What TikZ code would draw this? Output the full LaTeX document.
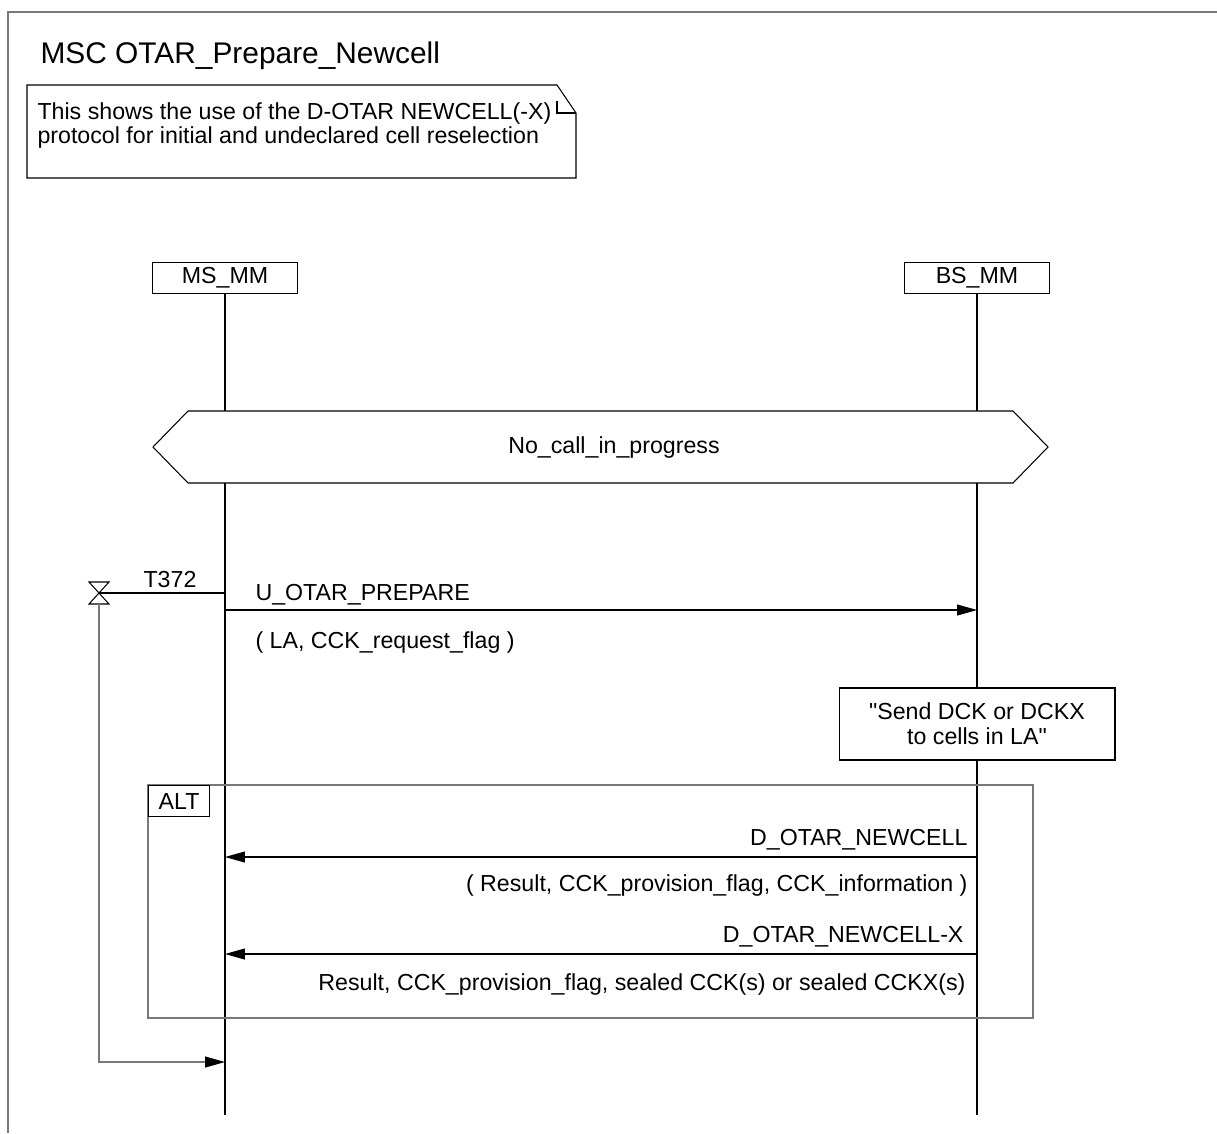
\documentclass[tikz,border=0pt]{standalone}
\usepackage{fontspec}
\setmainfont{Liberation Sans}
\usetikzlibrary{arrows.meta}
\begin{document}
\begin{tikzpicture}[x=0.02cm, y=-0.02cm, >={Triangle[length=0.4cm, width=0.22cm]},
		line width=0.6pt, font=\fontsize{13.2}{16}\selectfont,
		inst/.style={draw, minimum width=2.9cm, minimum height=0.62cm, inner sep=0pt},
		action/.style={draw, fill=white, align=center, minimum width=5.52cm, minimum height=1.44cm,
			inner sep=0pt, font=\fontsize{13.2}{14.2}\selectfont},
		lbl/.style={inner sep=0pt},
		framed/.style={draw=framegray, line width=0.8pt},
		timerarrow/.style={framegray, -{Triangle[length=0.4cm, width=0.22cm, color=black]}}]
		\definecolor{framegray}{RGB}{120,120,120}
		\useasboundingbox (0,0) rectangle (1217,1133);
		
		% 外框与标题
		\draw[framed] (8,1133) -- (8,12) -- (1217,12);
		\node[lbl, anchor=base west, font=\fontsize{17}{20}\selectfont] (title) at (40,63) {MSC OTAR\_Prepare\_Newcell};
		
		% 注释
		\draw (557,85) -- (27,85) -- (27,178) -- (576,178) -- (576,113) -- (557,85);
		\draw (557,101) -- (557,113) -- (576,113);
		\node[lbl, anchor=base west] (note1) at (37,119) {This shows the use of the D-OTAR NEWCELL(-X)};
		\node[lbl, anchor=base west] (note2) at (37,143) {protocol for initial and undeclared cell reselection};
		
		% 实例与生命线
		\node[inst] (msmm) at (225,278) {MS\_MM};
		\node[inst] (bsmm) at (977,278) {BS\_MM};
		\coordinate (msend) at (225,1115);
		\coordinate (bsend) at (977,1115);
		\draw (msmm) -- (msend);
		\draw (bsmm) -- (bsend);
		
		% 条件
		\draw[fill=white] (153,447) -- (188,411) -- (1013,411) -- (1048,447) -- (1013,483) -- (188,483) -- cycle;
		\node (cond) at (614,447) {No\_call\_in\_progress};
		
		% 定时器 T372
		\coordinate (tset) at (99,593);
		\coordinate (tstart) at (225,593);
		\coordinate (tout) at (99,1062);
		\coordinate (texp) at (225,1062);
		\draw (89,582) -- (109,582) -- (89,604) -- (109,604) -- cycle;
		\draw (tset) -- (tstart);
		\node[lbl, anchor=base] (tlabel) at (170,587) {T372};
		\draw[timerarrow] (99,604) -- (tout) -- (texp);
		
		% U_OTAR_PREPARE
		\coordinate (m1a) at (225,610);
		\coordinate (m1b) at (977,610);
		\draw[->] (m1a) -- (m1b);
		\node[lbl, anchor=base west] (m1name) at (255,600) {U\_OTAR\_PREPARE};
		\node[lbl, anchor=base west] (m1par) at (255,648) {( LA, CCK\_request\_flag )};
		
		% 动作
		\node[action] (send) at (977,724) {\textquotedbl Send DCK or DCKX\\to cells in LA\textquotedbl};
		
		% ALT
		\draw[framed] (148,785) rectangle (1033,1018);
		\node[draw, anchor=north west, minimum width=1.22cm, minimum height=0.62cm, inner sep=0pt] (alt) at (148,785) {ALT};
		
		\coordinate (m2a) at (977,857);
		\coordinate (m2b) at (225,857);
		\draw[->] (m2a) -- (m2b);
		\node[lbl, anchor=base east] (m2name) at (968,845) {D\_OTAR\_NEWCELL};
		\node[lbl, anchor=base east] (m2par) at (968,891) {( Result, CCK\_provision\_flag, CCK\_information )};
		
		\coordinate (m3a) at (977,954);
		\coordinate (m3b) at (225,954);
		\draw[->] (m3a) -- (m3b);
		\node[lbl, anchor=base east] (m3name) at (964,942) {D\_OTAR\_NEWCELL-X};
		\node[lbl, anchor=base east] (m3par) at (966,990) {Result, CCK\_provision\_flag, sealed CCK(s) or sealed CCKX(s)};
	\end{tikzpicture}
\end{document}
